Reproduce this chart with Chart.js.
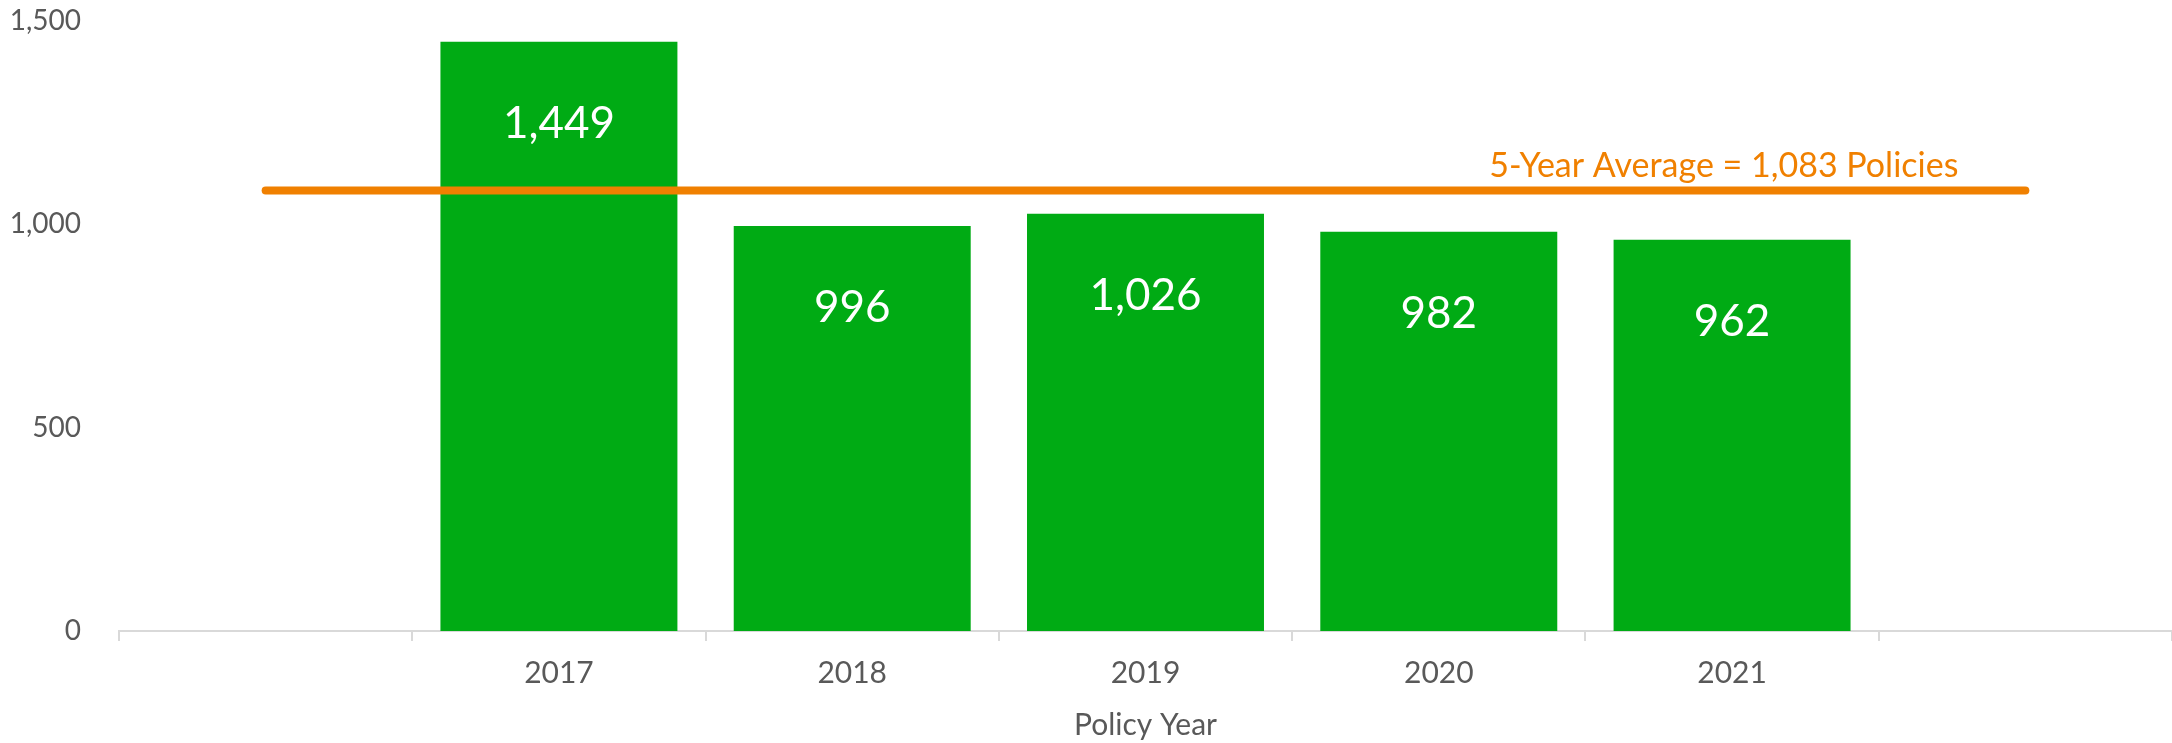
<!DOCTYPE html>
<html>
<head>
<meta charset="utf-8">
<script src="https://cdn.jsdelivr.net/npm/chart.js@4/dist/chart.umd.min.js"></script>
<style>
  html, body { margin: 0; padding: 0; background: #ffffff; }
  #wrap { width: 2172px; height: 743px; }
</style>
</head>
<body>
<div id="wrap"><canvas id="c" width="2172" height="743"></canvas></div>
<script>
// ---- data ----
const categories = ["", "2017", "2018", "2019", "2020", "2021", ""];
const policies = [null, 1449, 996, 1026, 982, 962, null];
const average = 1083;
const averageLine = [1083, 1083, 1083, 1083, 1083, 1083, 1083];
const yMin = 0;
const yMax = 1500;
const yStep = 500;
const xTitle = "Policy Year";

const FONT = "Lato";
const fmt = v => Number(v).toLocaleString("en-US");

const barLabels = {
  id: "barLabels",
  afterDatasetsDraw(chart) {
    const ctx = chart.ctx;
    const meta = chart.getDatasetMeta(1);
    ctx.save();
    ctx.fillStyle = "#ffffff";
    ctx.font = `44px ${FONT}`;
    ctx.textAlign = "center";
    ctx.textBaseline = "middle";
    meta.data.forEach((el, i) => {
      const v = policies[i];
      if (v === null || v === undefined) return;
      ctx.fillText(fmt(v), el.x, el.y + 82);
    });
    ctx.restore();
  }
};

const avgLabel = {
  id: "avgLabel",
  afterDatasetsDraw(chart) {
    const ctx = chart.ctx;
    const xs = chart.scales.x, ys = chart.scales.y;
    ctx.save();
    ctx.fillStyle = "#F08000";
    ctx.font = `34px ${FONT}`;
    ctx.textAlign = "right";
    ctx.textBaseline = "alphabetic";
    ctx.fillText(`5-Year Average = ${fmt(average)} Policies`, xs.getPixelForValue(6) - 67, ys.getPixelForValue(average) - 14);
    ctx.restore();
  }
};

new Chart(document.getElementById("c"), {
  data: {
    labels: categories,
    datasets: [
      {
        type: "line",
        data: averageLine,
        borderColor: "#F08000",
        borderWidth: 8,
        borderCapStyle: "round",
        pointRadius: 0,
        fill: false,
        order: 0
      },
      {
        type: "bar",
        data: policies,
        backgroundColor: "#00AB14",
        borderWidth: 0,
        categoryPercentage: 1.0,
        barPercentage: 0.808,
        order: 1
      }
    ]
  },
  options: {
    responsive: false,
    devicePixelRatio: 1,
    animation: false,
    layout: { padding: { top: 21, right: 0, bottom: 0, left: 0 } },
    plugins: { legend: { display: false }, tooltip: { enabled: false } },
    scales: {
      x: {
        type: "category",
        offset: true,
        grid: { offset: true, drawOnChartArea: false, drawTicks: true, tickLength: 10, color: "#d9d9d9", lineWidth: 2 },
        border: { display: true, color: "#d9d9d9", width: 2 },
        ticks: { color: "#595959", font: { family: FONT, size: 30 }, padding: 14, maxRotation: 0, autoSkip: false },
        title: { display: true, text: xTitle, color: "#595959", font: { family: FONT, size: 30 }, padding: { top: 0, bottom: 0 } },
        afterFit(s) { s.height = 112; s.paddingLeft = 0; s.paddingRight = 0; }
      },
      y: {
        min: yMin,
        max: yMax,
        grid: { display: false },
        border: { display: false },
        ticks: { stepSize: yStep, color: "#595959", font: { family: FONT, size: 28 }, padding: 30, callback: v => fmt(v) },
        afterFit(s) { s.width = 119; s.paddingTop = 0; s.paddingBottom = 0; }
      }
    }
  },
  plugins: [barLabels, avgLabel]
});
</script>
</body>
</html>
